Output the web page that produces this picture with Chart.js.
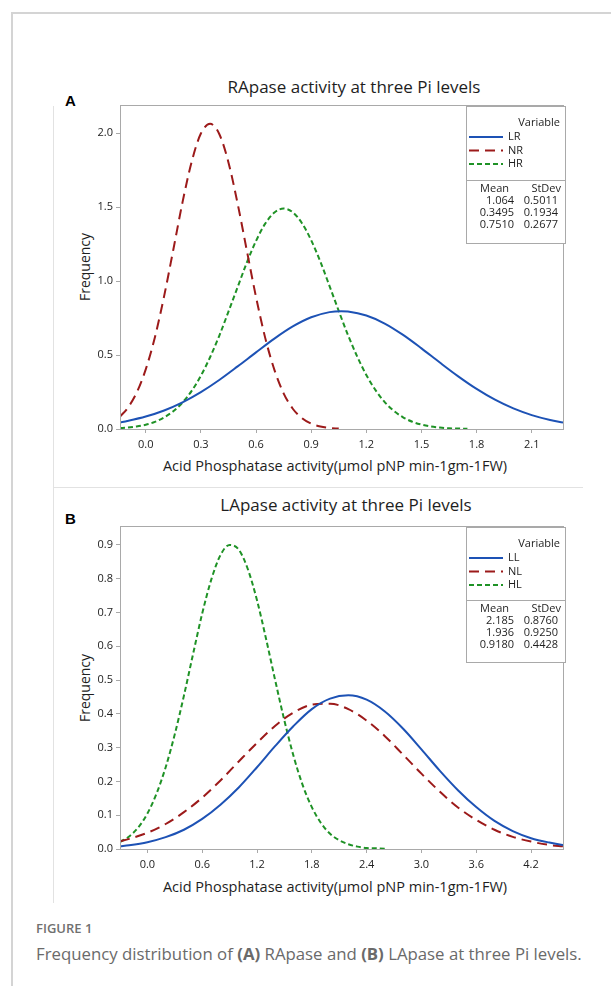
<!DOCTYPE html>
<html>
<head>
<meta charset="utf-8">
<script src="https://cdn.jsdelivr.net/npm/chart.js@4.4.1/dist/chart.umd.min.js"></script>
<style>
  body { margin: 0; background: #fff; font-family: 'Open Sans', sans-serif; }
  #page { position: relative; width: 611px; height: 986px; overflow: hidden; }
  .ln { position: absolute; background: #d4d4d4; }
  .t { position: absolute; white-space: nowrap; color: #1e1e1e; line-height: 1; }
  .c { transform: translateX(-50%); }
  canvas { position: absolute; }
</style>
</head>
<body>
<div id="page">
  <div class="ln" style="left:11px;top:12px;width:600px;height:1.5px"></div>
  <div class="ln" style="left:11px;top:12px;width:1.5px;height:974px"></div>
  <div class="ln" style="left:53px;top:106px;width:1px;height:797px;background:#e2e2e2"></div>
  <div class="ln" style="left:53px;top:487px;width:530px;height:1px;background:#e2e2e2"></div>

  <div class="t" style="left:65px;top:92px;font:bold 15px 'Liberation Sans',Arial,sans-serif;color:#000">A</div>
  <div class="t c" style="left:354px;top:78px;font-size:17px">RApase activity at three Pi levels</div>
  <div class="t c" style="left:335px;top:459px;font-size:14.5px">Acid Phosphatase activity(µmol pNP min-1gm-1FW)</div>
  <div class="t" style="left:85px;top:267px;font-size:14px;transform:translate(-50%,-50%) rotate(-90deg)">Frequency</div>

  <div class="t" style="left:65px;top:510px;font:bold 15px 'Liberation Sans',Arial,sans-serif;color:#000">B</div>
  <div class="t c" style="left:346px;top:496px;font-size:17px">LApase activity at three Pi levels</div>
  <div class="t c" style="left:335px;top:880px;font-size:14.5px">Acid Phosphatase activity(µmol pNP min-1gm-1FW)</div>
  <div class="t" style="left:85px;top:688px;font-size:14px;transform:translate(-50%,-50%) rotate(-90deg)">Frequency</div>

  <div class="t" style="left:36px;top:922px;font-size:13px;font-weight:600;color:#707070">FIGURE 1</div>
  <div class="t" style="left:36px;top:946px;font-size:16.8px;color:#6a6a6a">Frequency distribution of <b>(A)</b> RApase and <b>(B)</b> LApase at three Pi levels.</div>

  <canvas id="chartA" style="left:40px;top:95px" width="545" height="390"></canvas>
  <canvas id="chartB" style="left:40px;top:516px" width="545" height="389"></canvas>
</div>
<script>
// Panel A: RApase
const xTicksA = [0.0, 0.3, 0.6, 0.9, 1.2, 1.5, 1.8, 2.1];
const yTicksA = [0.0, 0.5, 1.0, 1.5, 2.0];
const xLR = [-0.14, -0.1, 0, 0.1, 0.2, 0.3, 0.4, 0.5, 0.6, 0.7, 0.8, 0.9, 1.0, 1.064, 1.1, 1.2, 1.3, 1.4, 1.5, 1.6, 1.7, 1.8, 1.9, 2.0, 2.1, 2.2, 2.27];
const yLR = [0.044, 0.054, 0.084, 0.125, 0.180, 0.249, 0.331, 0.423, 0.518, 0.611, 0.693, 0.755, 0.790, 0.796, 0.794, 0.767, 0.713, 0.636, 0.545, 0.449, 0.356, 0.271, 0.198, 0.139, 0.094, 0.061, 0.044];
const xNR = [-0.14, -0.1, -0.05, 0, 0.05, 0.1, 0.15, 0.2, 0.25, 0.3, 0.35, 0.4, 0.45, 0.5, 0.55, 0.6, 0.65, 0.7, 0.75, 0.8, 0.85, 0.9, 0.95, 1.0, 1.05];
const yNR = [0.084, 0.139, 0.244, 0.403, 0.621, 0.898, 1.212, 1.532, 1.807, 1.997, 2.063, 1.994, 1.802, 1.523, 1.206, 0.892, 0.616, 0.400, 0.241, 0.137, 0.073, 0.036, 0.017, 0.007, 0.003];
const xHR = [-0.14, -0.1, -0.05, 0, 0.05, 0.1, 0.15, 0.2, 0.25, 0.3, 0.35, 0.4, 0.45, 0.5, 0.55, 0.6, 0.65, 0.7, 0.75, 0.8, 0.85, 0.9, 0.95, 1.0, 1.05, 1.1, 1.15, 1.2, 1.25, 1.3, 1.35, 1.4, 1.45, 1.5, 1.55, 1.6, 1.65, 1.7, 1.75];
const yHR = [0.006, 0.009, 0.017, 0.029, 0.048, 0.078, 0.120, 0.179, 0.258, 0.360, 0.485, 0.630, 0.793, 0.959, 1.125, 1.271, 1.388, 1.463, 1.490, 1.465, 1.391, 1.276, 1.131, 0.966, 0.798, 0.636, 0.491, 0.365, 0.263, 0.182, 0.122, 0.079, 0.049, 0.030, 0.017, 0.010, 0.005, 0.003, 0.001];
const namesA = ['LR', 'NR', 'HR'];
const meanA = ['1.064', '0.3495', '0.7510'];
const sdA = ['0.5011', '0.1934', '0.2677'];

// Panel B: LApase
const xTicksB = [0.0, 0.6, 1.2, 1.8, 2.4, 3.0, 3.6, 4.2];
const yTicksB = [0.0, 0.1, 0.2, 0.3, 0.4, 0.5, 0.6, 0.7, 0.8, 0.9];
const xL = [-0.3, -0.2, 0, 0.2, 0.4, 0.6, 0.8, 1.0, 1.2, 1.4, 1.6, 1.8, 2.0, 2.2, 2.4, 2.6, 2.8, 3.0, 3.2, 3.4, 3.6, 3.8, 4.0, 4.2, 4.4, 4.55];
const yLL = [0.008, 0.011, 0.020, 0.035, 0.057, 0.089, 0.131, 0.182, 0.242, 0.305, 0.364, 0.414, 0.445, 0.455, 0.442, 0.407, 0.356, 0.295, 0.232, 0.174, 0.124, 0.083, 0.053, 0.032, 0.019, 0.012];
const yNL = [0.023, 0.030, 0.048, 0.074, 0.109, 0.152, 0.203, 0.259, 0.314, 0.365, 0.404, 0.427, 0.430, 0.414, 0.380, 0.334, 0.279, 0.223, 0.170, 0.123, 0.086, 0.057, 0.036, 0.022, 0.012, 0.008];
const xHL = [-0.3, -0.2, -0.1, 0, 0.1, 0.2, 0.3, 0.4, 0.5, 0.6, 0.7, 0.8, 0.9, 1.0, 1.1, 1.2, 1.3, 1.4, 1.5, 1.6, 1.7, 1.8, 1.9, 2.0, 2.1, 2.2, 2.3, 2.4, 2.5, 2.6];
const yHL = [0.021, 0.037, 0.064, 0.105, 0.164, 0.242, 0.340, 0.454, 0.577, 0.697, 0.798, 0.870, 0.900, 0.886, 0.828, 0.736, 0.621, 0.498, 0.380, 0.275, 0.189, 0.124, 0.077, 0.045, 0.026, 0.014, 0.007, 0.003, 0.002, 0.001];
const namesB = ['LL', 'NL', 'HL'];
const meanB = ['2.185', '1.936', '0.9180'];
const sdB = ['0.8760', '0.9250', '0.4428'];

const colors = ['#1d52b5', '#9c1a1a', '#1f9226'];
const dashes = [[], [10, 6], [5, 3]];
const pts = (xs, ys) => xs.map((x, i) => ({ x: x, y: ys[i] }));
const font = "'Open Sans', sans-serif";

const boxLegend = {
  id: 'boxLegend',
  afterDraw(chart, args, o) {
    const ctx = chart.ctx, a = chart.chartArea;
    ctx.save();
    ctx.strokeStyle = '#a9a9a9';
    ctx.lineWidth = 1;
    ctx.strokeRect(Math.round(a.left) + 0.5, Math.round(a.top) + 0.5, Math.round(a.right - a.left), Math.round(a.bottom - a.top));
    const r = Math.round(a.right) + 2, l = r - 99, t = Math.round(a.top) + 1;
    ctx.fillStyle = '#fff';
    ctx.fillRect(l, t, r - l, o.h1 + o.h2);
    ctx.strokeRect(l + 0.5, t + 0.5, r - l, o.h1);
    ctx.strokeRect(l + 0.5, t + o.h1 + 0.5, r - l, o.h2);
    ctx.fillStyle = '#1e1e1e';
    ctx.font = '11px ' + font;
    ctx.textBaseline = 'middle';
    ctx.textAlign = 'right';
    ctx.fillText('Variable', r - 5, t + 17);
    o.names.forEach((n, i) => {
      const y = t + 31 + i * 13.5;
      ctx.strokeStyle = colors[i];
      ctx.lineWidth = 2;
      ctx.setLineDash(dashes[i]);
      ctx.beginPath();
      ctx.moveTo(l + 3, y);
      ctx.lineTo(l + 37, y);
      ctx.stroke();
      ctx.textAlign = 'left';
      ctx.fillText(n, l + 42, y);
    });
    ctx.setLineDash([]);
    const s = t + o.h1;
    ctx.textAlign = 'right';
    ctx.fillText('Mean', l + 43, s + 9);
    ctx.fillText('StDev', r - 4, s + 9);
    o.mean.forEach((m, i) => {
      const y = s + 21 + i * 12;
      ctx.fillText(m, l + 48, y);
      ctx.fillText(o.sd[i], r - 7, y);
    });
    ctx.restore();
  }
};

function makeChart(id, series, xMin, xMax, yMax, xTicks, yTicks, legend) {
  return new Chart(document.getElementById(id), {
    type: 'line',
    data: {
      datasets: series.map((s, i) => ({
        label: legend.names[i],
        data: s,
        borderColor: colors[i],
        borderWidth: 2,
        borderDash: dashes[i],
        pointRadius: 0,
        cubicInterpolationMode: 'monotone',
        fill: false
      }))
    },
    options: {
      responsive: false,
      animation: false,
      layout: { padding: { top: 10, right: 22, bottom: 6, left: 0 } },
      plugins: { legend: { display: false }, tooltip: { enabled: false }, boxLegend: legend },
      scales: {
        x: {
          type: 'linear', min: xMin, max: xMax,
          afterFit: s => { s.height = 50; },
          afterBuildTicks: s => { s.ticks = xTicks.map(v => ({ value: v })); },
          grid: { drawOnChartArea: false, tickLength: 4, color: '#a9a9a9' },
          border: { color: '#a9a9a9' },
          ticks: { padding: 5, color: '#222', font: { family: font, size: 11 }, maxRotation: 0, callback: v => v.toFixed(1) }
        },
        y: {
          min: 0, max: yMax,
          afterFit: s => { s.width = 80; },
          afterBuildTicks: s => { s.ticks = yTicks.map(v => ({ value: v })); },
          grid: { drawOnChartArea: false, tickLength: 4, color: '#a9a9a9' },
          border: { color: '#a9a9a9' },
          ticks: { padding: 3, color: '#222', font: { family: font, size: 11 }, callback: v => v.toFixed(1) }
        }
      }
    },
    plugins: [boxLegend]
  });
}

makeChart('chartA', [pts(xLR, yLR), pts(xNR, yNR), pts(xHR, yHR)], -0.14, 2.27, 2.19, xTicksA, yTicksA,
  { names: namesA, mean: meanA, sd: sdA, h1: 74, h2: 63 });
makeChart('chartB', [pts(xL, yLL), pts(xL, yNL), pts(xHL, yHL)], -0.3, 4.55, 0.956, xTicksB, yTicksB,
  { names: namesB, mean: meanB, sd: sdB, h1: 73, h2: 62 });
</script>
</body>
</html>
